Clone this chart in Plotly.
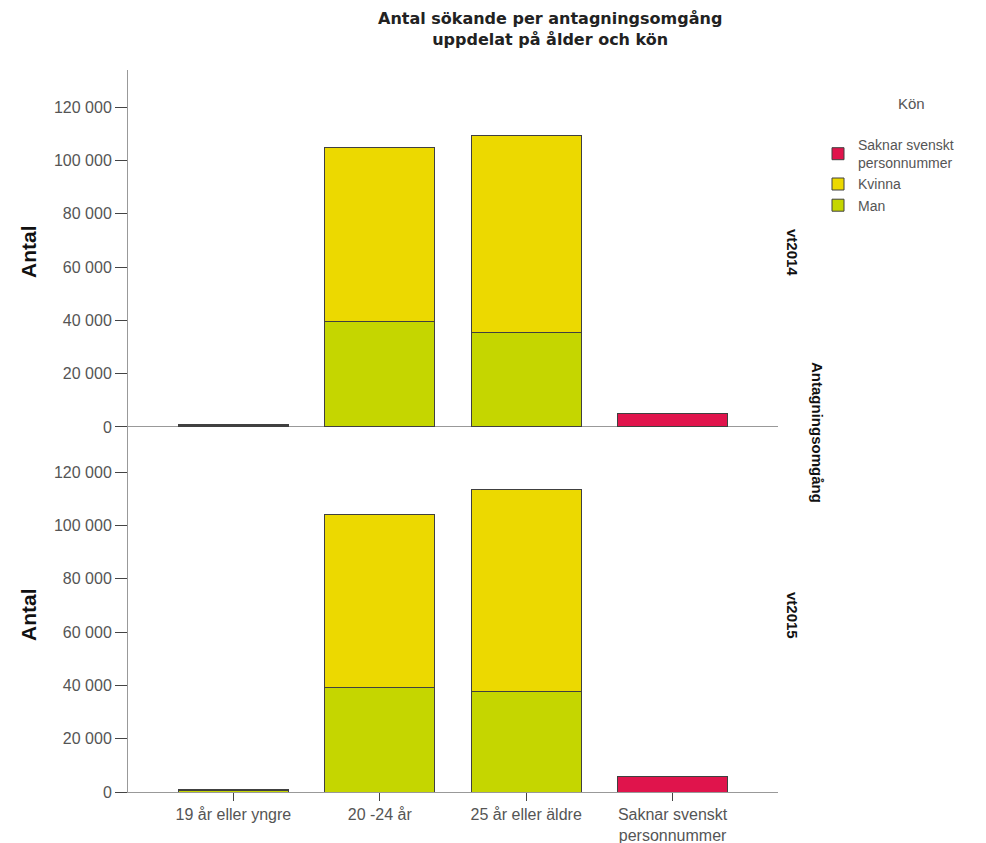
import plotly.graph_objects as go

categories = ["19 år eller yngre", "20 -24 år", "25 år eller äldre", "Saknar svenskt<br>personnummer"]
panels = ["vt2014", "vt2015"]
series_names = ["Man", "Kvinna", "Saknar svenskt<br>personnummer"]
man = {"vt2014": [400, 39400, 35600, None], "vt2015": [400, 39300, 37800, None]}
kvinna = {"vt2014": [500, 65600, 73900, None], "vt2015": [500, 64600, 75800, None]}
saknar = {"vt2014": [None, None, None, 5200], "vt2015": [None, None, None, 6000]}
ytick_vals = [0, 20000, 40000, 60000, 80000, 100000, 120000]
ytick_text = ["0", "20 000", "40 000", "60 000", "80 000", "100 000", "120 000"]
colors = ["#C5D600", "#ECD900", "#E0144C"]

fig = go.Figure()
for i, p in enumerate(panels):
    xa = "x" if i == 0 else "x2"
    ya = "y" if i == 0 else "y2"
    for name, vals, col in zip(series_names, [man[p], kvinna[p], saknar[p]], colors):
        fig.add_trace(go.Bar(
            x=categories, y=vals, name=name, xaxis=xa, yaxis=ya,
            marker=dict(color=col, line=dict(color="#404040", width=1)),
            width=0.75, showlegend=(i == 0), legendgroup=name,
        ))

FONT = "Liberation Sans, Arial"
W, H = 978, 835
L, T, PW, PH = 120, 62, 650, 722  # plot area in figure pixels


def px(xf):
    return (xf - L) / PW


def py(yf):
    return (T + PH - yf) / PH


tickfont = dict(family=FONT, size=16, color="#555555")
yax = dict(range=[-3000, 133900], tickvals=ytick_vals, ticktext=ytick_text,
           showline=True, linecolor="#999999", linewidth=1, ticks="outside",
           ticklen=12, tickcolor="#444444", showgrid=False, tickfont=tickfont,
           zeroline=True, zerolinecolor="#999999", zerolinewidth=1, fixedrange=True,
           automargin=False)

fig.update_layout(
    width=W, height=H,
    margin=dict(l=L, r=W - L - PW, t=T, b=H - T - PH, autoexpand=False),
    plot_bgcolor="white", paper_bgcolor="white",
    barmode="stack", bargap=0.25,
    xaxis=dict(anchor="y", domain=[0, 1], range=[-0.72, 3.72], showticklabels=False,
               ticks="", showline=False, showgrid=False, automargin=False),
    yaxis=dict(domain=[0.4945, 1], anchor="x", **yax),
    xaxis2=dict(anchor="y2", domain=[0, 1], range=[-0.72, 3.72], showline=True,
                linecolor="#999999", ticks="outside", ticklen=8, tickcolor="#444444",
                showgrid=False, automargin=False,
                tickfont=dict(family=FONT, size=16, color="#555555")),
    yaxis2=dict(domain=[0, 0.4945], anchor="x2", **{**yax, "range": [0, 133900], "zeroline": False}),
    legend=dict(xref="container", yref="container", x=810 / W, y=1 - 121 / H,
                xanchor="left", yanchor="top", traceorder="reversed",
                font=dict(family=FONT, size=14, color="#555555"),
                itemwidth=30, tracegroupgap=0, bgcolor="rgba(0,0,0,0)"),
    showlegend=True,
)

title_font = dict(family="DejaVu Sans", size=16, color="#222222")
fig.add_annotation(text="<b>Antal sökande per antagningsomgång<br>uppdelat på ålder och kön</b>",
                   xref="paper", yref="paper", x=px(542), y=py(20.5), showarrow=False,
                   font=title_font, xanchor="center", yanchor="middle", align="center")
fig.add_annotation(text="Kön", xref="paper", yref="paper", x=px(903), y=py(95), showarrow=False,
                   xanchor="center", yanchor="middle",
                   font=dict(family=FONT, size=15, color="#555555"))
for yc, label in zip([244, 607], panels):
    fig.add_annotation(text="<b>Antal</b>", xref="paper", yref="paper", x=px(20),
                       y=py(yc), showarrow=False, textangle=-90, xanchor="center", yanchor="middle",
                       font=dict(family=FONT, size=21, color="#111111"))
    fig.add_annotation(text="<b>" + label + "</b>", xref="paper", yref="paper", x=px(785),
                       y=py(yc), showarrow=False, textangle=90, xanchor="center", yanchor="middle",
                       font=dict(family=FONT, size=15, color="#111111"))
fig.add_annotation(text="<b>Antagningsomgång</b>", xref="paper", yref="paper", x=px(810),
                   y=py(424), showarrow=False, textangle=90, xanchor="center", yanchor="middle",
                   font=dict(family=FONT, size=15, color="#111111"))

fig.write_html("out.html")
